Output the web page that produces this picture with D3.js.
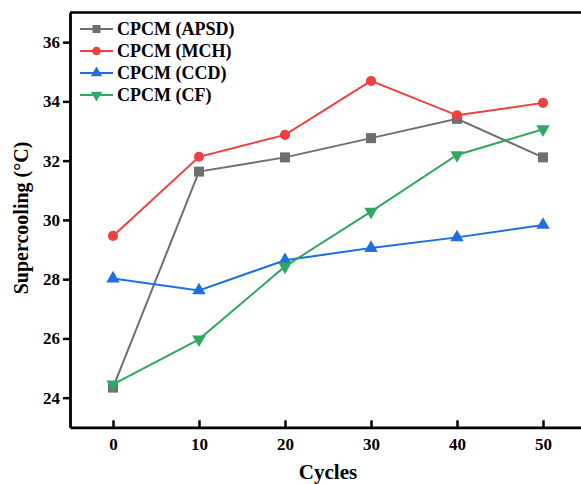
<!DOCTYPE html>
<html>
<head>
<meta charset="utf-8">
<script src="https://cdn.jsdelivr.net/npm/d3@7"></script>
<style>
  body { margin: 0; background: #fff; }
  text { font-family: "Liberation Serif", "Times New Roman", serif; font-weight: bold; }
</style>
</head>
<body>
<script>
// Data
var cycles = [0, 10, 20, 30, 40, 50];
var apsd = [24.34, 31.63, 32.11, 32.76, 33.41, 32.11];
var mch  = [29.46, 32.13, 32.87, 34.69, 33.53, 33.95];
var ccd  = [28.02, 27.62, 28.64, 29.05, 29.41, 29.83];
var cf   = [24.45, 25.97, 28.43, 30.28, 32.19, 33.06];
var seriesNames = ["CPCM (APSD)", "CPCM (MCH)", "CPCM (CCD)", "CPCM (CF)"];
var xTicks = [0, 10, 20, 30, 40, 50];
var yTicks = [24, 26, 28, 30, 32, 34, 36];

var colors = ["#6f6f6f", "#f03f3f", "#1f6fdf", "#2fa862"];
var symbols = [d3.symbolSquare, d3.symbolCircle, d3.symbolTriangle, d3.symbolTriangle];
var rotations = [0, 0, 0, 180];
var markerSize = [100, 80, 78, 78];
var legendSize = [64, 60, 55, 55];

var series = [apsd, mch, ccd, cf].map(function(vals, i) {
    return { name: seriesNames[i], values: vals.map((v, j) => ({ x: cycles[j], y: v })) };
});

// Define Margin
var margin = {left: 70, top: 12.5, right: -5, bottom: 56.7},
    totalW = 581, totalH = 484,
    width = totalW - margin.left - margin.right,
    height = totalH - margin.top - margin.bottom;

var svg = d3.select("body")
    .append("svg")
    .attr("width", totalW)
    .attr("height", totalH);

var g = svg.append("g")
    .attr("transform", `translate(${margin.left}, ${margin.top})`);

// Scales
var x = d3.scaleLinear().domain([-5, 55]).range([0, width]);
var y = d3.scaleLinear().domain([23, 37]).range([height, 0]);

// Top border (right border falls outside the picture)
g.append("line")
    .attr("x1", 0).attr("x2", width)
    .attr("y1", 0).attr("y2", 0)
    .attr("stroke", "#000").attr("stroke-width", 2.5);
g.append("line")
    .attr("x1", width).attr("x2", width)
    .attr("y1", 0).attr("y2", height)
    .attr("stroke", "#000").attr("stroke-width", 2.5);

// Axes
var xAxis = g.append("g")
    .attr("transform", `translate(0, ${height})`)
    .call(d3.axisBottom(x).tickValues(xTicks).tickSize(-7).tickSizeOuter(0).tickPadding(11));
var yAxis = g.append("g")
    .call(d3.axisLeft(y).tickValues(yTicks).tickSize(7).tickSizeOuter(0).tickPadding(3));

[xAxis, yAxis].forEach(function(ax) {
    ax.select(".domain").attr("stroke-width", 2.8);
    ax.selectAll(".tick line").attr("stroke-width", 2.5);
    ax.selectAll(".tick text")
        .attr("fill", "#000")
        .style("font-size", "17px")
        .style("font-family", "'Liberation Serif', serif")
        .style("font-weight", "bold");
});

// Axis titles
svg.append("text")
    .attr("x", margin.left + (x(55) + x(-5)) / 2)
    .attr("y", 479)
    .attr("text-anchor", "middle")
    .style("font-size", "21px")
    .text("Cycles");

svg.append("text")
    .attr("transform", "translate(28, 218) rotate(-90)")
    .attr("text-anchor", "middle")
    .style("font-size", "20px")
    .text("Supercooling (\u00b0C)");

// Lines and markers
var line = d3.line().x(d => x(d.x)).y(d => y(d.y));

series.forEach(function(s, i) {
    var sg = g.append("g");
    sg.append("path")
        .datum(s.values)
        .attr("d", line)
        .attr("fill", "none")
        .attr("stroke", colors[i])
        .attr("stroke-width", 2);
    sg.selectAll("path.mark")
        .data(s.values)
        .enter().append("path")
        .attr("class", "mark")
        .attr("d", d3.symbol().type(symbols[i]).size(markerSize[i]))
        .attr("transform", d => `translate(${x(d.x)}, ${y(d.y)}) rotate(${rotations[i]})`)
        .attr("fill", colors[i]);
});

// Legend
var legend = svg.append("g")
    .attr("transform", "translate(80, 29)");

var rows = legend.selectAll("g")
    .data(series)
    .enter().append("g")
    .attr("transform", (d, i) => `translate(0, ${i * 22})`);

rows.append("line")
    .attr("x1", 0).attr("x2", 33)
    .attr("stroke", (d, i) => colors[i])
    .attr("stroke-width", 2);
rows.append("path")
    .attr("d", (d, i) => d3.symbol().type(symbols[i]).size(legendSize[i])())
    .attr("transform", (d, i) => `translate(16.5, 0) rotate(${rotations[i]})`)
    .attr("fill", (d, i) => colors[i]);
rows.append("text")
    .attr("x", 37)
    .attr("dy", "0.33em")
    .style("font-size", "18px")
    .text(d => d.name);
</script>
</body>
</html>
